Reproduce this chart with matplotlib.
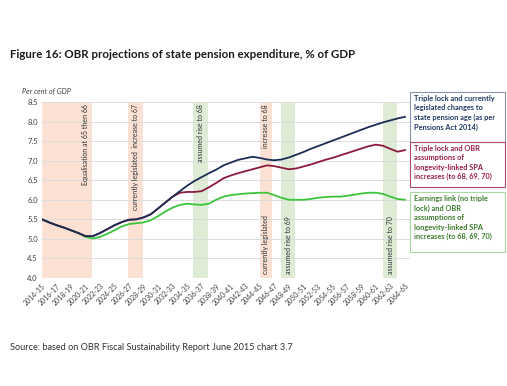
import matplotlib
matplotlib.use("Agg")
from matplotlib import pyplot as plt
from matplotlib.patches import Rectangle

plt.rcParams['font.family'] = ['Lato', 'DejaVu Sans']

years = ["%d-%02d" % (y, (y + 1) % 100) for y in range(2014, 2065)]

triple_lock_legislated = [
    5.50, 5.42, 5.35, 5.29, 5.22, 5.15, 5.07, 5.07, 5.15, 5.25,
    5.35, 5.43, 5.49, 5.50, 5.55, 5.63, 5.78, 5.93, 6.08, 6.22,
    6.36, 6.48, 6.58, 6.68, 6.77, 6.88, 6.95, 7.02, 7.06, 7.10,
    7.07, 7.03, 7.01, 7.03, 7.08, 7.15, 7.22, 7.30, 7.37, 7.44,
    7.51, 7.58, 7.65, 7.72, 7.79, 7.86, 7.92, 7.98, 8.03, 8.08,
    8.12]
triple_lock_obr = [
    5.50, 5.42, 5.35, 5.29, 5.22, 5.15, 5.07, 5.07, 5.15, 5.25,
    5.35, 5.43, 5.49, 5.50, 5.55, 5.63, 5.78, 5.93, 6.08, 6.18,
    6.20, 6.20, 6.22, 6.32, 6.43, 6.55, 6.62, 6.68, 6.73, 6.78,
    6.83, 6.88, 6.86, 6.82, 6.78, 6.80, 6.85, 6.90, 6.96, 7.02,
    7.07, 7.13, 7.19, 7.25, 7.31, 7.37, 7.41, 7.38, 7.30, 7.23,
    7.27]
earnings_link_obr = [
    5.50, 5.42, 5.35, 5.29, 5.22, 5.15, 5.05, 5.01, 5.05, 5.13,
    5.22, 5.32, 5.38, 5.40, 5.42, 5.48, 5.58, 5.70, 5.80, 5.87,
    5.90, 5.88, 5.87, 5.90, 6.00, 6.08, 6.12, 6.14, 6.16, 6.17,
    6.18, 6.18, 6.12, 6.05, 6.00, 6.00, 6.00, 6.02, 6.05, 6.07,
    6.08, 6.08, 6.10, 6.13, 6.16, 6.18, 6.18, 6.15, 6.08, 6.02,
    6.00]

# shaded SPA change periods: (start index, end index, colour)
bands = [(0, 6.9, 'pink'), (11.8, 13.9, 'pink'), (20.8, 22.9, 'green'),
         (30.0, 31.7, 'pink'), (32.9, 34.9, 'green'), (47.0, 48.9, 'green')]
band_colours = {'pink': '#fbe1d3', 'green': '#deecd6'}

fig = plt.figure(figsize=(5.07, 3.86), dpi=100)
ax = fig.add_axes([42 / 507, 1 - 278 / 386, (410 - 42) / 507, (278 - 102) / 386])

x = list(range(len(years)))
for start, end, c in bands:
    ax.axvspan(start, end, color=band_colours[c], lw=0, zorder=0)

ax.plot(x, earnings_link_obr, color='#3cc43c', lw=1.3, zorder=3)
ax.plot(x, triple_lock_obr, color='#8c1a3c', lw=1.3, zorder=4)
ax.plot(x, triple_lock_legislated, color='#1b2d55', lw=1.3, zorder=5)

ax.set_xlim(0, 50.7)
ax.set_ylim(4.0, 8.5)
ax.set_yticks([4.0 + 0.5 * i for i in range(10)])
ax.set_yticklabels(["%.1f" % (4.0 + 0.5 * i) for i in range(10)], fontsize=5.5, color='#404040')
ax.set_xticks(x[::2])
ax.set_xticklabels(years[::2], fontsize=5, rotation=45, ha='right',
                   rotation_mode='anchor', color='#404040')
ax.tick_params(length=0, pad=3)
ax.yaxis.grid(True, color='#dcdcdc', lw=0.7)
ax.set_axisbelow(True)
for s in ax.spines.values():
    s.set_visible(False)

txt = dict(rotation=90, fontsize=5, color='#303030', zorder=6)
ax.text(6.0, 8.45, 'Equalisation at 65 then 66', va='top', ha='center', **txt)
ax.text(12.85, 8.45, 'currently legislated  increase to 67', va='top', ha='center', **txt)
ax.text(21.85, 8.45, 'assumed rise to 68', va='top', ha='center', **txt)
ax.text(30.85, 8.45, 'increase to 68', va='top', ha='center', **txt)
ax.text(30.85, 4.1, 'currently legislated', va='bottom', ha='center', **txt)
ax.text(33.9, 4.1, 'assumed rise to 69', va='bottom', ha='center', **txt)
ax.text(47.95, 4.1, 'assumed rise to 70', va='bottom', ha='center', **txt)

fig.text(10 / 507, 1 - 54 / 386, 'Figure 16: OBR projections of state pension expenditure, % of GDP',
         fontsize=8.3, fontweight='bold', va='center', color='#1a1a1a')
fig.text(22 / 507, 1 - 91 / 386, 'Per cent of GDP', fontsize=5.2, style='italic',
         va='center', color='#404040')
fig.text(10 / 507, 1 - 347 / 386, 'Source: based on OBR Fiscal Sustainability Report June 2015 chart 3.7',
         fontsize=6.6, va='center', color='#303030')

# legend boxes on the right
boxes = [
    (92, 142, '#8a93a8', '#1f3864',
     'Triple lock and currently\nlegislated changes to\nstate pension age (as per\nPensions Act 2014)'),
    (142, 187, '#b04a66', '#9a1b45',
     'Triple lock and OBR\nassumptions of\nlongevity-linked SPA\nincreases (to 68, 69, 70)'),
    (192, 252, '#a8d8a0', '#3a7a2a',
     'Earnings link (no triple\nlock) and OBR\nassumptions of\nlongevity-linked SPA\nincreases (to 68, 69, 70)'),
]
for top, bottom, edge, tc, label in boxes:
    fig.patches.append(Rectangle((410 / 507, 1 - bottom / 386), 95 / 507, (bottom - top) / 386,
                                 transform=fig.transFigure, fill=False, ec=edge, lw=0.8))
    fig.text(414 / 507, 1 - (top + 3) / 386, label, fontsize=5.3, fontweight='bold',
             color=tc, va='top', ha='left', linespacing=1.4)

fig.savefig('out.png', dpi=100)
